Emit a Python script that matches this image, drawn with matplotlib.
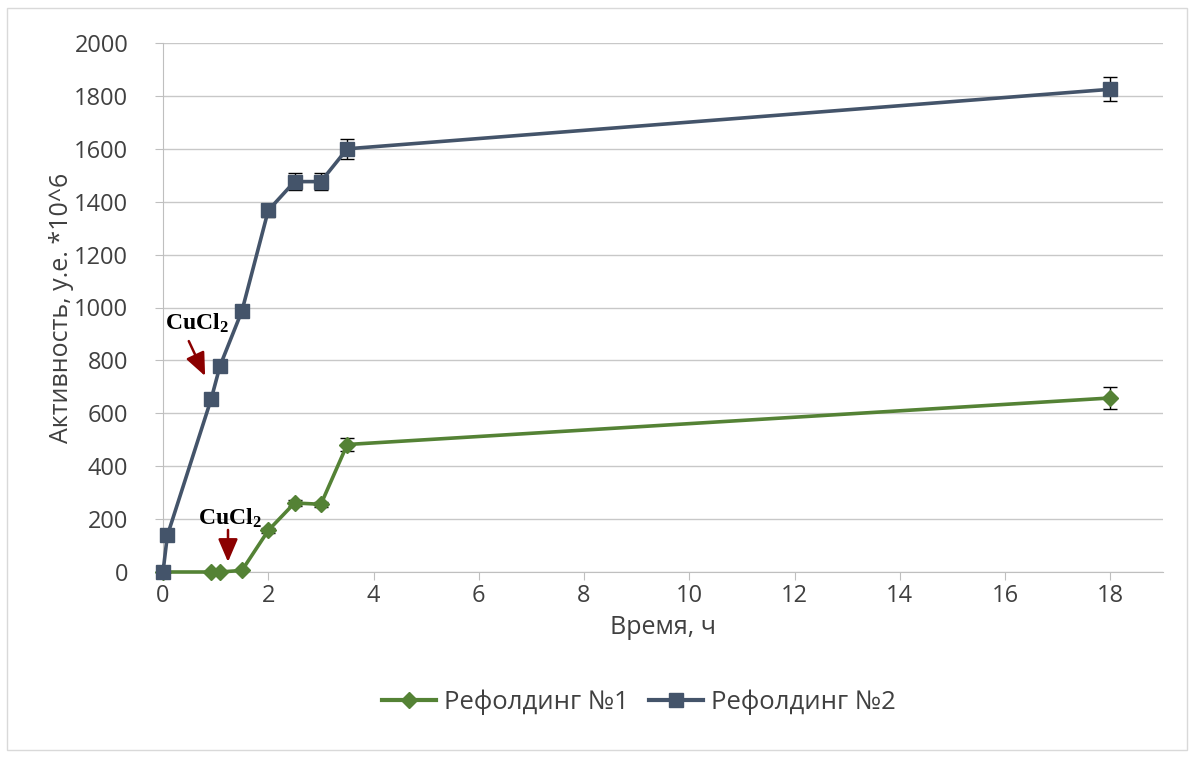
import matplotlib
matplotlib.use('Agg')
from matplotlib import pyplot as plt
from matplotlib.patches import Rectangle
from matplotlib.lines import Line2D

# Время отбора проб, ч
t1 = [0, 0.917, 1.083, 1.5, 2, 2.5, 3, 3.5, 18]
act1 = [0, 0, 0, 6, 157, 261, 256, 482, 658]
err1 = [0, 0, 0, 0, 8, 10, 10, 25, 40]

t2 = [0, 0.083, 0.917, 1.083, 1.5, 2, 2.5, 3, 3.5, 18]
act2 = [0, 138, 655, 779, 987, 1367, 1476, 1476, 1600, 1825]
err2 = [0, 0, 0, 0, 0, 25, 32, 32, 38, 45]

green = '#548235'
blue = '#44546A'
txt = '#404040'

plt.rcParams['font.family'] = ['Open Sans', 'DejaVu Sans']
plt.rcParams['mathtext.fontset'] = 'custom'
plt.rcParams['mathtext.rm'] = 'Liberation Serif'
plt.rcParams['mathtext.bf'] = 'Liberation Serif:bold'

fig = plt.figure(figsize=(11.96, 7.58), dpi=100)
ax = fig.add_axes([163/1196, 1 - 572/758, 1000/1196, 529/758])

# рамка области диаграммы
fig.patches.append(Rectangle((7/1196, 8/758), 1180/1196, 742/758, transform=fig.transFigure,
                             fill=False, edgecolor='#D9D9D9', lw=1))

l1 = ax.errorbar(t1, act1, yerr=err1, color=green, lw=2.6, marker='D', ms=8,
                 ecolor='black', elinewidth=1, capsize=5, capthick=1, zorder=3)
l2 = ax.errorbar(t2, act2, yerr=err2, color=blue, lw=2.6, marker='s', ms=10.5,
                 ecolor='black', elinewidth=1, capsize=5, capthick=1, zorder=4)
for c in (l1, l2):
    c.lines[0].set_clip_on(False)

ax.set_xlim(0, 19)
ax.set_ylim(0, 2000)
ax.set_xticks(range(0, 19, 2))
ax.set_yticks(range(0, 2001, 200))
ax.grid(axis='y', color='#C8C8C8', lw=1)
ax.set_axisbelow(True)
for s in ['top', 'right']:
    ax.spines[s].set_visible(False)
ax.spines['left'].set_color('#BFBFBF')
ax.spines['bottom'].set_color('#BFBFBF')
ax.tick_params(axis='y', length=6, color='#BFBFBF', direction='out', labelsize=17,
               labelcolor=txt, pad=19)
ax.tick_params(axis='x', length=6, color='#BFBFBF', direction='out', labelsize=17,
               labelcolor=txt, pad=3)

ax.set_xlabel('Время, ч', fontsize=18, color=txt, labelpad=5)
ax.set_ylabel('Активность, у.е. *10^6', fontsize=18, color=txt, labelpad=0)

# моменты добавления CuCl2
arr = dict(arrowstyle='-|>,head_length=0.7,head_width=0.3', color='#8B0000', lw=1.8,
           shrinkA=0, shrinkB=0, mutation_scale=20)
ax.text(0.04, 915, '$\\mathbf{CuCl_2}$', fontsize=17, color='black', va='baseline')
ax.annotate('', xy=(0.80, 741), xytext=(0.49, 873), arrowprops=arr)
ax.text(0.665, 178, '$\\mathbf{CuCl_2}$', fontsize=17, color='black', va='baseline')
ax.annotate('', xy=(1.235, 38), xytext=(1.235, 159), arrowprops=arr)

h1 = Line2D([], [], color=green, lw=3, marker='D', ms=8)
h2 = Line2D([], [], color=blue, lw=3, marker='s', ms=10.5)
leg = fig.legend([h1, h2], ['Рефолдинг №1', 'Рефолдинг №2'], loc='center',
                 bbox_to_anchor=(0.534, 1 - 702/758), ncol=2, frameon=False,
                 fontsize=18.5, handlelength=2.1, columnspacing=0.8, handletextpad=0.3)
for t in leg.get_texts():
    t.set_color(txt)

fig.savefig('out.png', dpi=100)
